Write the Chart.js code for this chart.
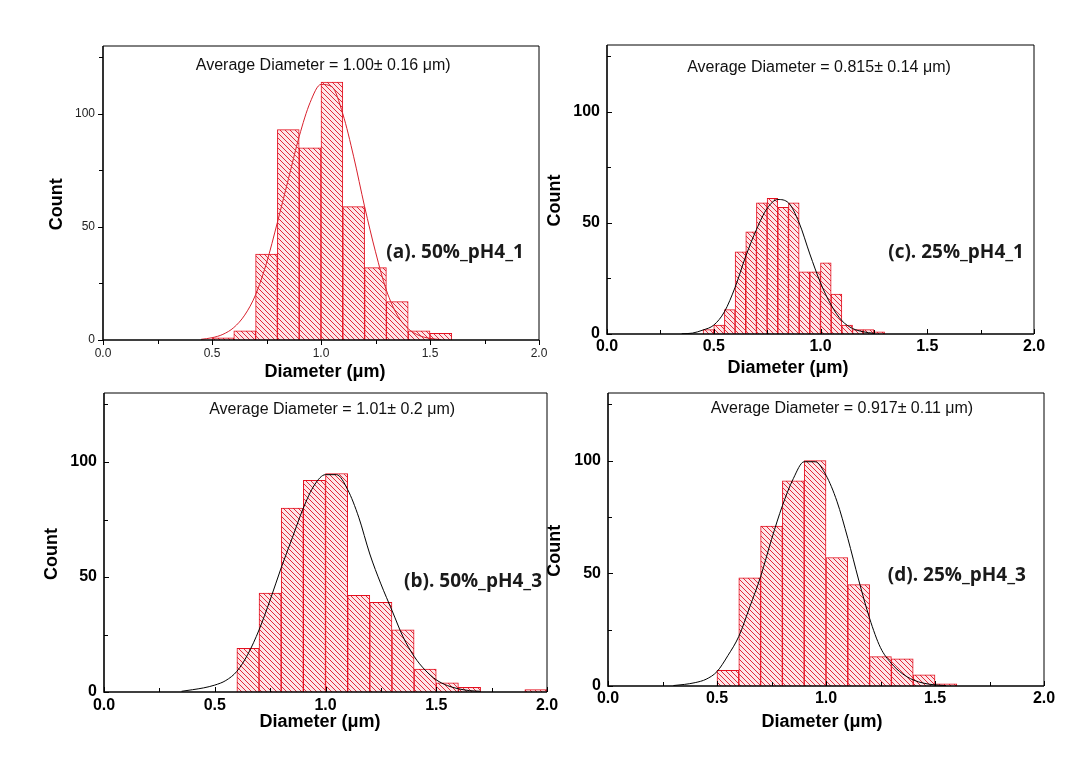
<!DOCTYPE html>
<html>
<head>
<meta charset="utf-8">
<script src="https://cdn.jsdelivr.net/npm/chart.js@4.4.1/dist/chart.umd.min.js"></script>
<style>
  html, body { margin: 0; padding: 0; background: #fff; }
  #wrap { position: relative; width: 1085px; height: 757px; overflow: hidden; }
  #wrap canvas { position: absolute; }
</style>
</head>
<body>
<div id="wrap">
  <canvas id="pA" width="560" height="385" style="left:0;top:0"></canvas>
  <canvas id="pC" width="545" height="385" style="left:540px;top:0"></canvas>
  <canvas id="pB" width="560" height="372" style="left:0;top:385px"></canvas>
  <canvas id="pD" width="540" height="372" style="left:545px;top:385px"></canvas>
</div>
<script>
// ## data ##########################################################################
// bin centres (µm) and counts

// (a) 50%_pH4_1 — 0.1 µm bins
const binsA   = [0.55, 0.65, 0.75, 0.85, 0.95, 1.05, 1.15, 1.25, 1.35, 1.45, 1.55];
const countsA = [1, 4, 38, 93, 85, 114, 59, 32, 17, 4, 3];
const fitXA   = [0.45, 0.5, 0.55, 0.6, 0.65, 0.7, 0.75, 0.8, 0.85, 0.9, 0.95, 1.0, 1.05, 1.1, 1.15, 1.2, 1.25, 1.3, 1.35, 1.4, 1.45, 1.5, 1.55];
const fitYA   = [0.3, 1, 2.5, 5.5, 11, 20, 34, 52, 71, 90, 105, 113, 112, 100, 81, 59, 39, 22, 11, 5, 2, 0.7, 0.2];

// (c) 25%_pH4_1 — 0.05 µm bins
const binsC   = [0.475, 0.525, 0.575, 0.625, 0.675, 0.725, 0.775, 0.825, 0.875, 0.925, 0.975, 1.025, 1.075, 1.125, 1.175, 1.225, 1.275];
const countsC = [2, 4, 11, 37, 46, 59, 61, 57, 59, 28, 28, 32, 18, 4, 2, 2, 1];
const fitXC   = [0.35, 0.4, 0.45, 0.5, 0.55, 0.6, 0.65, 0.7, 0.75, 0.8, 0.85, 0.9, 0.95, 1.0, 1.05, 1.1, 1.15, 1.2, 1.25];
const fitYC   = [0.1, 0.4, 1.8, 4, 10, 21, 35, 47, 56.5, 60.5, 59, 50, 36, 23, 13, 6, 2.5, 1, 0.3];

// (b) 50%_pH4_3 — 0.1 µm bins
const binsB   = [0.65, 0.75, 0.85, 0.95, 1.05, 1.15, 1.25, 1.35, 1.45, 1.55, 1.65, 1.75, 1.85, 1.95];
const countsB = [19, 43, 80, 92, 95, 42, 39, 27, 10, 4, 2, 0, 0, 1];
const fitXB   = [0.35, 0.4, 0.45, 0.5, 0.55, 0.6, 0.65, 0.7, 0.75, 0.8, 0.85, 0.9, 0.95, 1.0, 1.05, 1.1, 1.15, 1.2, 1.25, 1.3, 1.35, 1.4, 1.45, 1.5, 1.55, 1.6, 1.65, 1.7];
const fitYB   = [0.3, 1, 1.8, 3, 5, 9, 16.5, 27, 40, 54, 67, 80, 90, 94.5, 94.5, 88, 76, 60, 47, 35.5, 24, 15.5, 9.5, 5.3, 2.8, 1.4, 0.6, 0.3];

// (d) 25%_pH4_3 — 0.1 µm bins
const binsD   = [0.55, 0.65, 0.75, 0.85, 0.95, 1.05, 1.15, 1.25, 1.35, 1.45, 1.55];
const countsD = [7, 48, 71, 91, 100, 57, 45, 13, 12, 5, 1];
const fitXD   = [0.3, 0.35, 0.4, 0.45, 0.5, 0.55, 0.6, 0.65, 0.7, 0.75, 0.8, 0.85, 0.9, 0.95, 1.0, 1.05, 1.1, 1.15, 1.2, 1.25, 1.3, 1.35, 1.4, 1.45, 1.5, 1.55];
const fitYD   = [0.2, 0.7, 1.5, 3, 6.4, 13.5, 22, 35, 48.5, 65, 80, 92, 99.5, 99.5, 93.5, 82, 65.5, 47, 30, 17, 10, 5.5, 2.7, 1.2, 0.5, 0.2];

// axis ticks
const yTicks = [0, 50, 100];
const xTicks = [0.0, 0.5, 1.0, 1.5, 2.0];

// ## helpers ##########################################################################
const SANS = 'Arial, "Liberation Sans", sans-serif';

/** red "\\\\" hatch on pale pink, like the Origin fill */
function hatch() {
  const s = 5;
  const c = document.createElement('canvas');
  c.width = c.height = s;
  const g = c.getContext('2d');
  g.fillStyle = '#fde6e8';
  g.fillRect(0, 0, s, s);
  g.strokeStyle = '#e2283a';
  g.lineWidth = 1;
  g.beginPath();
  g.moveTo(0, 0); g.lineTo(s, s);
  g.moveTo(-1, s - 1); g.lineTo(1, s + 1);
  g.moveTo(s - 1, -1); g.lineTo(s + 1, 1);
  g.stroke();
  return g.createPattern(c, 'repeat');
}

/** zip two arrays into {x,y} points */
function pts(xs, ys) {
  return xs.map((x, i) => ({ x, y: ys[i] }));
}

const near = (v, list) => list.some(t => Math.abs(t - v) < 1e-6);

// frame box + tick marks, drawn over the bars
const framePlugin = {
  id: 'frame',
  afterDatasetsDraw(chart, args, opts) {
    const { ctx, chartArea: a, scales: { x, y } } = chart;
    const dir = opts.outward ? 1 : -1;
    ctx.save();
    ctx.strokeStyle = '#000';
    ctx.lineWidth = 1;
    ctx.beginPath();
    ctx.moveTo(a.left, a.top); ctx.lineTo(a.right, a.top); ctx.lineTo(a.right, a.bottom);
    ctx.stroke();
    ctx.lineWidth = 1.6;
    ctx.beginPath();
    ctx.moveTo(a.left, a.top); ctx.lineTo(a.left, a.bottom); ctx.lineTo(a.right, a.bottom);
    ctx.stroke();
    ctx.lineWidth = 1;
    ctx.beginPath();
    x.ticks.forEach(t => {
      const px = Math.round(x.getPixelForValue(t.value)) + 0.5;
      const len = near(t.value, xTicks) ? 5 : 4;
      ctx.moveTo(px, a.bottom); ctx.lineTo(px, a.bottom + dir * len);
    });
    y.ticks.forEach(t => {
      const py = Math.round(y.getPixelForValue(t.value)) + 0.5;
      const len = near(t.value, yTicks) ? 5 : 4;
      ctx.moveTo(a.left, py); ctx.lineTo(a.left - dir * len, py);
    });
    ctx.stroke();
    ctx.restore();
  }
};

// average text, panel label and axis titles
const notesPlugin = {
  id: 'notes',
  afterDraw(chart, args, o) {
    const { ctx, chartArea: a, scales: { x, y } } = chart;
    ctx.save();
    ctx.textAlign = 'center';
    ctx.textBaseline = 'middle';
    ctx.fillStyle = '#111';
    ctx.font = '16px ' + SANS;
    ctx.fillText(o.avg, x.getPixelForValue(o.avgAt[0]), y.getPixelForValue(o.avgAt[1]));

    ctx.fillStyle = '#1a1a1a';
    ctx.font = 'bold 19px "Open Sans", sans-serif';
    ctx.fillText(o.label, x.getPixelForValue(o.labelAt[0]), y.getPixelForValue(o.labelAt[1]));

    ctx.fillStyle = '#000';
    ctx.font = 'bold 18px ' + SANS;
    ctx.fillText('Diameter (μm)', x.getPixelForValue(o.xTitleAt), a.bottom + o.xTitleDy);

    ctx.translate(a.left - o.countDx, y.getPixelForValue(60));
    ctx.rotate(-Math.PI / 2);
    ctx.fillText('Count', 0, 0);
    ctx.restore();
  }
};

// ## chart construction ##########################################################################
/**
 * p: { id, bins, counts, fitX, fitY, fitColor, box:{left,top,right,bottom}, light, xPad, notes }
 */
function histogram(p) {
  const el = document.getElementById(p.id);
  const W = el.width, H = el.height;
  const tickFont = p.light
    ? { family: SANS, size: 12, weight: 'normal' }
    : { family: SANS, size: 16, weight: 'bold' };
  const tickColor = p.light ? '#222' : '#000';

  return new Chart(el.getContext('2d'), {
    data: {
      datasets: [
        {
          type: 'line',
          data: pts(p.fitX, p.fitY),
          borderColor: p.fitColor,
          borderWidth: 1,
          pointRadius: 0,
          cubicInterpolationMode: 'monotone',
          order: 0
        },
        {
          type: 'bar',
          data: pts(p.bins, p.counts),
          backgroundColor: hatch(),
          borderColor: '#e4101f',
          borderWidth: 1,
          barPercentage: 1,
          categoryPercentage: 1,
          order: 1
        }
      ]
    },
    options: {
      responsive: false,
      animation: false,
      events: [],
      layout: { padding: { left: 0, top: p.box.top, right: W - p.box.right, bottom: 0 } },
      plugins: {
        legend: { display: false },
        tooltip: { enabled: false },
        frame: { outward: !!p.light },
        notes: p.notes
      },
      scales: {
        x: {
          type: 'linear',
          min: 0, max: 2,
          offset: false,
          grid: { display: false, drawTicks: false },
          border: { display: false },
          ticks: {
            stepSize: 0.25,
            autoSkip: false,
            maxRotation: 0,
            padding: p.xPad,
            font: tickFont,
            color: tickColor,
            callback: v => near(v, xTicks) ? v.toFixed(1) : ''
          },
          afterFit(s) {
            s.height = H - p.box.bottom;
            s.paddingLeft = s.paddingRight = 0;
          }
        },
        y: {
          min: 0, max: 130,
          grid: { display: false, drawTicks: false },
          border: { display: false },
          ticks: {
            stepSize: 25,
            includeBounds: false,
            autoSkip: false,
            padding: p.light ? 8 : 7,
            font: tickFont,
            color: tickColor,
            callback: v => near(v, yTicks) ? String(v) : ''
          },
          afterFit(s) {
            s.width = p.box.left;
            s.paddingTop = s.paddingBottom = 0;
          }
        }
      }
    },
    plugins: [framePlugin, notesPlugin]
  });
}

// ## panels ##########################################################################
histogram({
  id: 'pA', bins: binsA, counts: countsA, fitX: fitXA, fitY: fitYA, fitColor: '#d8202c',
  box: { left: 103, top: 46, right: 539, bottom: 340 }, light: true, xPad: 6,
  notes: { avg: 'Average Diameter = 1.00± 0.16 μm)', avgAt: [1.01, 121.5],
           label: '(a). 50%_pH4_1', labelAt: [1.615, 38.5],
           xTitleAt: 1.018, xTitleDy: 32, countDx: 46 }
});

histogram({
  id: 'pC', bins: binsC, counts: countsC, fitX: fitXC, fitY: fitYC, fitColor: '#000',
  box: { left: 67, top: 45, right: 494, bottom: 334 }, xPad: 3,
  notes: { avg: 'Average Diameter = 0.815± 0.14 μm)', avgAt: [0.993, 120],
           label: '(c). 25%_pH4_1', labelAt: [1.635, 36.4],
           xTitleAt: 0.848, xTitleDy: 34, countDx: 52 }
});

histogram({
  id: 'pB', bins: binsB, counts: countsB, fitX: fitXB, fitY: fitYB, fitColor: '#000',
  box: { left: 104, top: 8, right: 547, bottom: 307 }, xPad: 4,
  notes: { avg: 'Average Diameter = 1.01± 0.2 μm)', avgAt: [1.03, 123],
           label: '(b). 50%_pH4_3', labelAt: [1.666, 47.8],
           xTitleAt: 0.975, xTitleDy: 30, countDx: 52 }
});

histogram({
  id: 'pD', bins: binsD, counts: countsD, fitX: fitXD, fitY: fitYD, fitColor: '#000',
  box: { left: 63, top: 8, right: 499, bottom: 301 }, xPad: 3,
  notes: { avg: 'Average Diameter = 0.917± 0.11 μm)', avgAt: [1.073, 123.3],
           label: '(d). 25%_pH4_3', labelAt: [1.60, 49.2],
           xTitleAt: 0.982, xTitleDy: 36, countDx: 53 }
});
</script>
</body>
</html>
